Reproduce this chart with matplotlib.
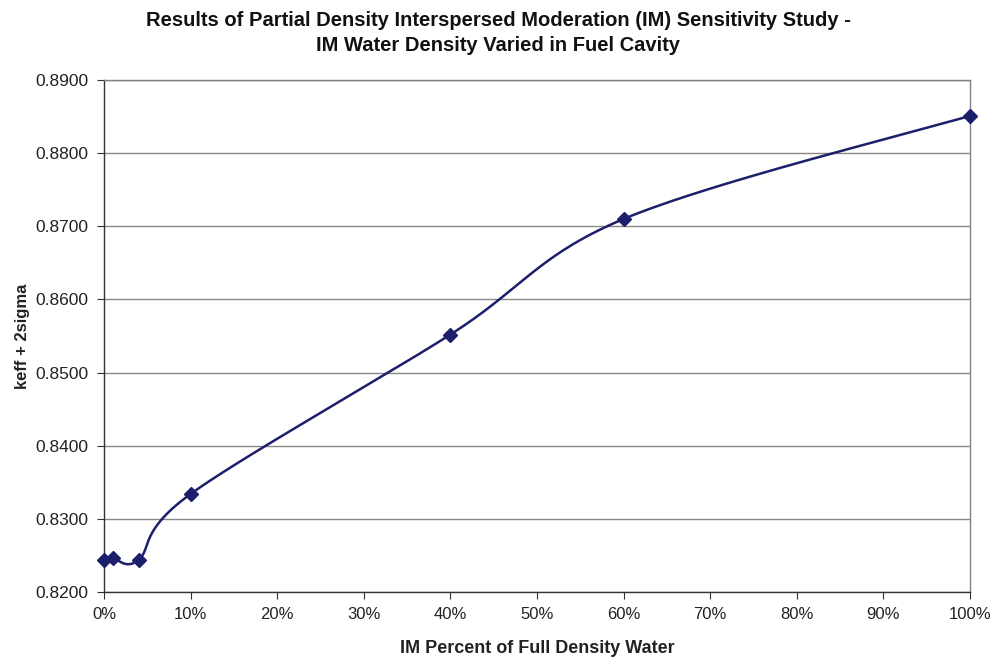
import numpy as np
import matplotlib
matplotlib.use("Agg")
import matplotlib.pyplot as plt
from matplotlib.ticker import FuncFormatter, MultipleLocator

# Data
im_percent = [0, 1, 4, 10, 40, 60, 100]
keff_2sigma = [0.8244, 0.8246, 0.8244, 0.8334, 0.8552, 0.8710, 0.8851]

title_text = ("Results of Partial Density Interspersed Moderation (IM) Sensitivity Study -\n"
              "IM Water Density Varied in Fuel Cavity")
x_label = "IM Percent of Full Density Water"
y_label = "keff + 2sigma"

plt.rcParams['font.family'] = ['Liberation Sans', 'DejaVu Sans']


def excel_smooth(xs, ys, n=60):
    """Excel-style smoothed line: cubic Bezier segments with Catmull-Rom control points."""
    P = np.column_stack([xs, ys]).astype(float)
    out = [P[0]]
    m = len(P)
    for i in range(m - 1):
        p0 = P[i - 1] if i > 0 else P[i]
        p1 = P[i]
        p2 = P[i + 1]
        p3 = P[i + 2] if i + 2 < m else P[i + 1]
        c1 = p1 + (p2 - p0) / 6.0
        c2 = p2 - (p3 - p1) / 6.0
        t = np.linspace(0, 1, n)[1:, None]
        seg = ((1 - t) ** 3) * p1 + 3 * ((1 - t) ** 2) * t * c1 + 3 * (1 - t) * t ** 2 * c2 + t ** 3 * p2
        out.extend(seg)
    out = np.array(out)
    return out[:, 0], out[:, 1]


fig = plt.figure(figsize=(9.96, 6.64), dpi=100)
ax = fig.add_axes([104 / 996, 1 - 592 / 664, (970 - 104) / 996, (592 - 80) / 664])

line_color = "#1c1f6b"
sx, sy = excel_smooth(im_percent, keff_2sigma)
ax.plot(sx, sy, color=line_color, lw=1.8, zorder=3)
ax.plot(im_percent, keff_2sigma, linestyle='none', marker='D', markersize=7,
        color=line_color, zorder=4, clip_on=False)

ax.set_xlim(0, 100)
ax.set_ylim(0.82, 0.89)
ax.xaxis.set_major_locator(MultipleLocator(10))
ax.yaxis.set_major_locator(MultipleLocator(0.01))
ax.xaxis.set_major_formatter(FuncFormatter(lambda v, p: f"{v:.0f}%"))
ax.yaxis.set_major_formatter(FuncFormatter(lambda v, p: f"{v:.4f}"))

ax.grid(axis='y', color='#888888', lw=1.0)
ax.set_axisbelow(True)
for s in ax.spines.values():
    s.set_color('#808080')
    s.set_linewidth(1.0)
ax.spines['left'].set_color('#333333')
ax.spines['bottom'].set_color('#333333')

ax.tick_params(axis='both', direction='out', length=5, color='#333333', labelcolor='#222222')
ax.tick_params(axis='y', labelsize=12.5, pad=6)
ax.tick_params(axis='x', labelsize=12, pad=6)

ax.set_xlabel(x_label, fontsize=13, fontweight='bold', labelpad=13, color='#222222')
ax.set_ylabel(y_label, fontsize=12, fontweight='bold', labelpad=4, color='#222222')
fig.suptitle(title_text, fontsize=14.5, fontweight='bold', y=0.983, color='#111111',
             linespacing=1.4)

fig.savefig("out.png", dpi=100)
